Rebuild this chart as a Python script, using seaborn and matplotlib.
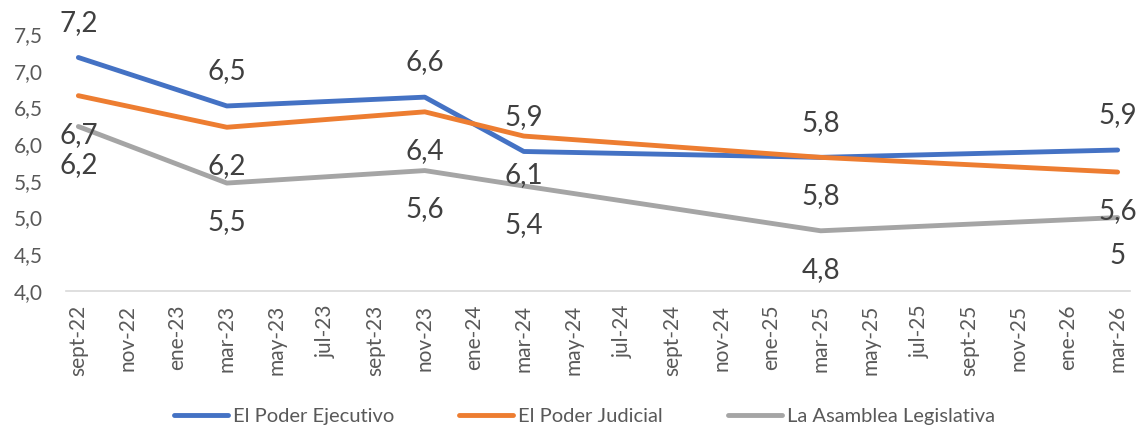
import matplotlib
matplotlib.use("Agg")
import matplotlib.pyplot as plt
import seaborn as sns
import pandas as pd
import numpy as np
from matplotlib.lines import Line2D

# ---------------- data ----------------
dates = ["2022-09", "2023-03", "2023-11", "2024-03", "2025-03", "2026-03"]
ejecutivo = [7.18, 6.52, 6.64, 5.90, 5.82, 5.92]
judicial = [6.66, 6.23, 6.44, 6.11, 5.82, 5.62]
asamblea = [6.24, 5.47, 5.64, 5.43, 4.82, 5.00]
series_names = ["El Poder Ejecutivo", "El Poder Judicial", "La Asamblea Legislativa"]
colors = ["#4472C4", "#ED7D31", "#A5A5A5"]
tick_labels = ["sept-22", "nov-22", "ene-23", "mar-23", "may-23", "jul-23", "sept-23",
               "nov-23", "ene-24", "mar-24", "may-24", "jul-24", "sept-24", "nov-24",
               "ene-25", "mar-25", "may-25", "jul-25", "sept-25", "nov-25", "ene-26",
               "mar-26"]
y_ticks = [4.0, 4.5, 5.0, 5.5, 6.0, 6.5, 7.0, 7.5]

# ---------------- prep ----------------
start = pd.Period("2022-09", freq="M")
month_idx = [(pd.Period(d, freq="M") - start).n for d in dates]
rows = []
for name, vals in zip(series_names, [ejecutivo, judicial, asamblea]):
    for m, v in zip(month_idx, vals):
        rows.append({"mes": m, "valor": v, "serie": name})
df = pd.DataFrame(rows)
n_months = (pd.Period("2026-03", freq="M") - start).n + 1

sns.set_theme(style="white")
plt.rcParams["font.family"] = ["Lato", "DejaVu Sans"]

fig = plt.figure(figsize=(11.37, 4.29), dpi=100)
ax = fig.add_axes([66 / 1137, 1 - 291 / 429, (1130 - 66) / 1137, (291 - 34) / 429])

sns.lineplot(data=df, x="mes", y="valor", hue="serie", hue_order=series_names,
             palette=colors, linewidth=3.5, ax=ax, legend=False, sort=True)
for ln in ax.lines:
    ln.set_solid_capstyle("round")
    ln.set_solid_joinstyle("round")

def fmt(v):
    s = f"{v:.1f}"
    if s.endswith(".0"):
        s = s[:-2]
    return s.replace(".", ",")

offsets = [25, -28, -28]
for name, vals, off in zip(series_names, [ejecutivo, judicial, asamblea], offsets):
    for m, v in zip(month_idx, vals):
        ax.annotate(fmt(v), (m, v), xytext=(0, off), textcoords="offset points",
                    ha="center", va="center", fontsize=20, color="#404040")

ax.set_xlim(-0.5, n_months - 0.5)
ax.set_ylim(4.0, 7.5)
ax.set_yticks(y_ticks)
ax.set_yticklabels([f"{t:.1f}".replace(".", ",") for t in y_ticks],
                   fontsize=15, color="#595959")
ax.tick_params(axis="y", length=0, pad=16.5)

# tick marks at slot boundaries, labels at slot centres
ax.set_xticks(np.arange(-0.5, n_months, 2))
ax.set_xticklabels([])
ax.set_xticks(np.arange(0, n_months, 2), minor=True)
ax.set_xticklabels(tick_labels, minor=True, rotation=90, fontsize=15, color="#595959")
ax.tick_params(axis="x", which="major", length=6, color="#D9D9D9", width=1.2, direction="out")
ax.tick_params(axis="x", which="minor", length=0, pad=10)
ax.set_xlabel("")
ax.set_ylabel("")

for sp in ["left", "right", "top"]:
    ax.spines[sp].set_visible(False)
ax.spines["bottom"].set_color("#D9D9D9")
ax.spines["bottom"].set_linewidth(1.2)
ax.grid(False)

handles = [Line2D([0], [0], color=c, lw=3.5, solid_capstyle="round") for c in colors]
fig.legend(handles, series_names, loc="center", bbox_to_anchor=(0.514, 1 - 416 / 429),
           ncol=3, frameon=False, fontsize=14.5, handlelength=2.7, handletextpad=0.25,
           columnspacing=3.2, labelcolor="#595959")

fig.savefig("out.png", dpi=100)
